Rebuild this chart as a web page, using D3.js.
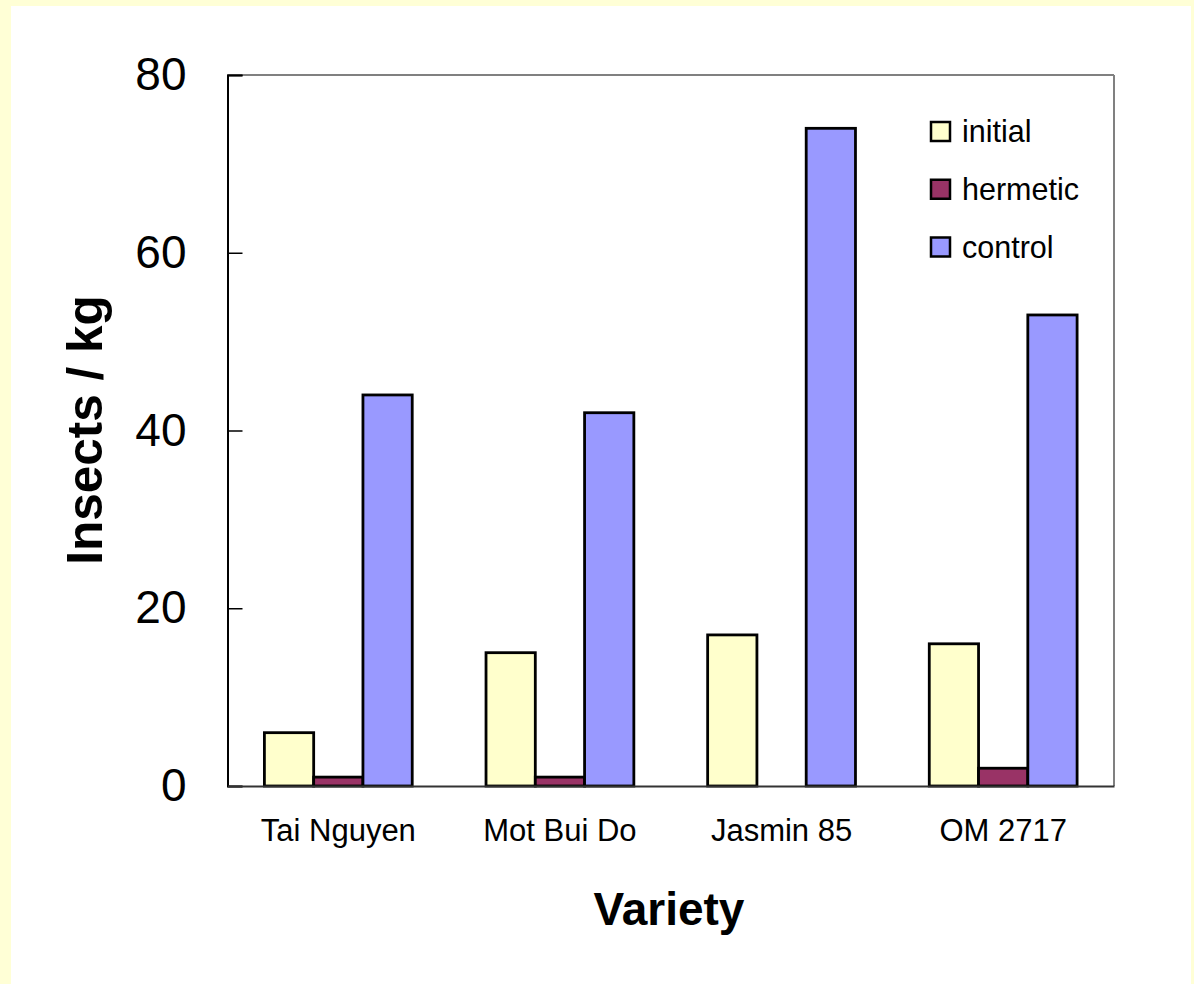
<!DOCTYPE html>
<html>
<head>
<meta charset="utf-8">
<script src="https://d3js.org/d3.v7.min.js"></script>
<style>
  html, body { margin: 0; padding: 0; background: #FFFFD6; }
  svg { display: block; }
</style>
</head>
<body>
<svg id="chart" width="1194" height="984"></svg>
<script>
// Insects per kg of stored rice, by variety and storage treatment
const varieties = ["Tai Nguyen", "Mot Bui Do", "Jasmin 85", "OM 2717"];
const seriesNames = ["initial", "hermetic", "control"];
const initialValues = [6, 15, 17, 16];
const hermeticValues = [1, 1, 0, 2];
const controlValues = [44, 42, 74, 53];
const yTicks = [0, 20, 40, 60, 80];

const seriesValues = [initialValues, hermeticValues, controlValues];
const colors = ["#FFFFCC", "#993366", "#9999FF"];

const svg = d3.select("#chart");
const W = 1194, H = 984;

// page background: pale yellow frame around a white panel
svg.append("rect").attr("x", 0).attr("y", 0).attr("width", W).attr("height", H).attr("fill", "#FFFFD6");
svg.append("rect").attr("x", 11).attr("y", 6).attr("width", 1180).attr("height", H + 10).attr("fill", "#FFFFFF");

const plot = { left: 227.5, top: 75, right: 1114, bottom: 786 };

const x0 = d3.scaleBand()
  .domain(varieties)
  .range([plot.left, plot.right])
  .paddingInner(0.333)
  .paddingOuter(0.1665);

const x1 = d3.scaleBand()
  .domain(seriesNames)
  .range([0, x0.bandwidth()]);

const y = d3.scaleLinear().domain([0, 80]).range([plot.bottom, plot.top]);

// plot frame: top and right in grey
svg.append("line")
  .attr("x1", plot.left).attr("x2", plot.right)
  .attr("y1", plot.top).attr("y2", plot.top)
  .attr("stroke", "#808080").attr("stroke-width", 2);
svg.append("line")
  .attr("x1", plot.right).attr("x2", plot.right)
  .attr("y1", plot.top).attr("y2", plot.bottom)
  .attr("stroke", "#808080").attr("stroke-width", 2);

// bars
const rows = varieties.map((v, i) => ({
  variety: v,
  values: seriesNames.map((s, j) => ({ series: s, value: seriesValues[j][i], color: colors[j] }))
}));

const groups = svg.append("g").selectAll("g")
  .data(rows)
  .join("g")
  .attr("transform", d => `translate(${x0(d.variety)},0)`);

groups.selectAll("rect")
  .data(d => d.values.filter(v => v.value > 0))
  .join("rect")
  .attr("x", d => x1(d.series))
  .attr("y", d => y(d.value))
  .attr("width", x1.bandwidth())
  .attr("height", d => y(0) - y(d.value))
  .attr("fill", d => d.color)
  .attr("stroke", "#000")
  .attr("stroke-width", 2.8);

// y axis with inward ticks
const yAxis = d3.axisLeft(y)
  .tickValues(yTicks)
  .tickSize(-15)
  .tickPadding(41)
  .tickFormat(d3.format("d"));

const gy = svg.append("g")
  .attr("transform", `translate(${plot.left},0)`)
  .call(yAxis);
gy.select(".domain").attr("stroke", "#000").attr("stroke-width", 2);
gy.selectAll(".tick line").attr("stroke", "#000").attr("stroke-width", 1.5);
gy.selectAll(".tick text")
  .attr("font-family", "'Liberation Sans', Arial, sans-serif")
  .attr("font-size", 46)
  .attr("fill", "#000");

// x axis baseline and category labels
const xAxis = d3.axisBottom(x0).tickSize(0).tickPadding(33);
const gx = svg.append("g")
  .attr("transform", `translate(0,${plot.bottom})`)
  .call(xAxis);
gx.select(".domain").attr("stroke", "#333").attr("stroke-width", 2);
gx.selectAll(".tick text")
  .attr("font-family", "'Liberation Sans', Arial, sans-serif")
  .attr("font-size", 31)
  .attr("fill", "#000");

// axis titles
svg.append("text")
  .attr("transform", `translate(102,430) rotate(-90)`)
  .attr("text-anchor", "middle")
  .attr("font-family", "'Liberation Sans', Arial, sans-serif")
  .attr("font-weight", "bold")
  .attr("font-size", 49.5)
  .text("Insects / kg");

svg.append("text")
  .attr("x", 669).attr("y", 925)
  .attr("text-anchor", "middle")
  .attr("font-family", "'Liberation Sans', Arial, sans-serif")
  .attr("font-weight", "bold")
  .attr("font-size", 46)
  .text("Variety");

// legend
const legendY = d3.scalePoint().domain(seriesNames).range([131.5, 247]);
const legend = svg.append("g").selectAll("g")
  .data(seriesNames)
  .join("g")
  .attr("transform", d => `translate(931,${legendY(d)})`);
legend.append("rect")
  .attr("x", 0).attr("y", -9.5)
  .attr("width", 19).attr("height", 19)
  .attr("fill", (d, i) => colors[i])
  .attr("stroke", "#000").attr("stroke-width", 2.5);
legend.append("text")
  .attr("x", 31).attr("y", 10.5)
  .attr("font-family", "'Liberation Sans', Arial, sans-serif")
  .attr("font-size", 30.5)
  .text(d => d);
</script>
</body>
</html>
